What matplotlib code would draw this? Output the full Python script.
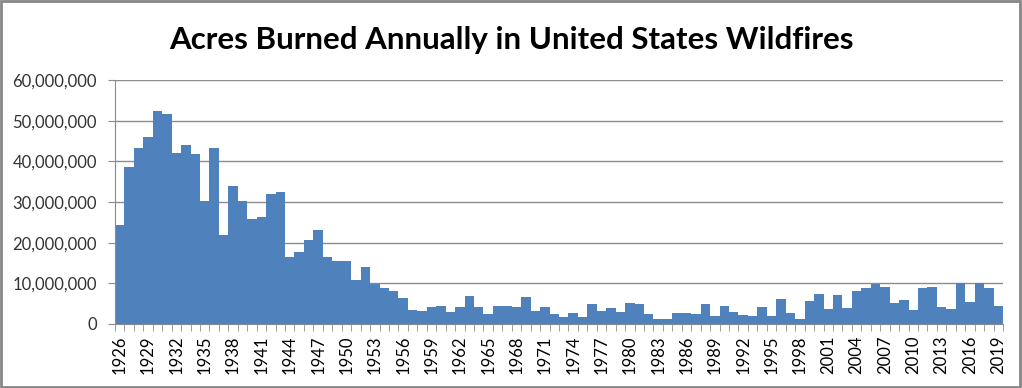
import matplotlib
matplotlib.use('Agg')
import matplotlib.pyplot as plt
from matplotlib.ticker import FuncFormatter, FixedLocator
from matplotlib.patches import Rectangle

years = list(range(1926, 2020))
acres_m = [
    24.3, 38.5, 43.4, 46.1, 52.3, 51.6, 42.1, 43.9, 41.8, 30.2,  # 1926-1935
    43.2, 21.9, 33.9, 30.2, 25.9, 26.4, 31.9, 32.4, 16.5, 17.6,  # 1936-1945
    20.7, 23.2, 16.5, 15.4, 15.4, 10.7, 14.0, 9.9, 8.8, 8.1,     # 1946-1955
    6.5, 3.4, 3.2, 4.1, 4.5, 3.0, 4.1, 7.0, 4.1, 2.5,            # 1956-1965
    4.5, 4.5, 4.1, 6.7, 3.2, 4.3, 2.5, 1.8, 2.7, 1.8,            # 1966-1975
    4.9, 3.2, 3.9, 3.0, 5.2, 4.8, 2.4, 1.2, 1.2, 2.7,            # 1976-1985
    2.7, 2.4, 4.9, 1.9, 4.5, 3.0, 2.1, 1.9, 4.1, 1.9,            # 1986-1995
    6.1, 2.7, 1.2, 5.7, 7.4, 3.7, 7.1, 3.9, 8.1, 8.8,            # 1996-2005
    9.9, 9.2, 5.2, 5.9, 3.4, 8.8, 9.2, 4.3, 3.7, 10.2,           # 2006-2015
    5.4, 10.2, 8.8, 4.5,                                         # 2016-2019
]
acres = [v * 1e6 for v in acres_m]

plt.rcParams['font.family'] = ['Lato', 'DejaVu Sans']

fig = plt.figure(figsize=(10.22, 3.88), dpi=100)
ax = fig.add_axes([115/1022, 64/388, 888/1022, 244/388])

x = list(range(len(years)))
ax.bar(x, acres, width=1.0, color='#4F81BD', edgecolor='none', zorder=2)

ax.set_xlim(-0.5, len(years) - 0.5)
ax.set_ylim(0, 60e6)
ax.set_yticks(range(0, 60000001, 10000000))
ax.yaxis.set_major_formatter(FuncFormatter(lambda v, p: f'{int(v):,}'))
ax.grid(axis='y', color='#8C8C8C', linewidth=1, zorder=0)

# x ticks at bar boundaries, labels every 3 years
ax.xaxis.set_major_locator(FixedLocator([i for i in x if i % 3 == 0]))
ax.set_xticklabels([str(years[i]) for i in x if i % 3 == 0], rotation=90, fontsize=12)
ax.xaxis.set_minor_locator(FixedLocator([i - 0.5 for i in range(len(years) + 1)]))
ax.tick_params(axis='x', which='major', length=0, pad=8)
ax.tick_params(axis='x', which='minor', length=5, color='#8C8C8C')
ax.tick_params(axis='y', length=5, color='#8C8C8C', labelsize=12, labelcolor='#333333', pad=8)

for s in ['top', 'right']:
    ax.spines[s].set_visible(False)
for s in ['left', 'bottom']:
    ax.spines[s].set_color('#8C8C8C')

fig.text(0.5, 1 - 40/388, 'Acres Burned Annually in United States Wildfires',
         ha='center', va='center', fontsize=22.5, fontweight='bold')

fig.patches.append(Rectangle((0.001, 0.002), 0.997, 0.995, transform=fig.transFigure,
                             fill=False, edgecolor='#868686', linewidth=2))

fig.savefig('out.png', dpi=100)
